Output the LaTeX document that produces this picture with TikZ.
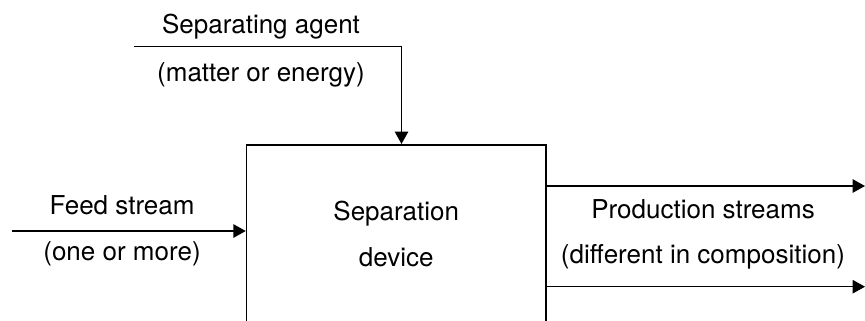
\documentclass[tikz,border=0pt]{standalone}
\usepackage{fontspec}
\setmainfont{TeX Gyre Heros}
\usetikzlibrary{arrows.meta, positioning, calc}

\begin{document}
\begin{tikzpicture}[font=\fontsize{14.8}{26.7}\selectfont,
  flow/.style={line width=0.85pt, -{Triangle[width=0.27cm, length=0.25cm]}},
  lbl/.style={inner sep=0pt, anchor=base}]

  % page: 865x320 px, 1px = 0.02cm
  \clip (0,0) rectangle (17.3,6.4);

  % Separation device (bottom edge falls off the page)
  \node[draw, line width=0.85pt, minimum width=5.99cm, minimum height=3.57cm,
        align=center, inner sep=0pt] (dev) at (7.925,1.72) {Separation\\device};

  % Separating agent, from the top
  \coordinate (agentin) at (2.68,5.466);
  \coordinate (agentbend) at (8.03,5.466);
  \node[lbl] (agent) at (5.22,5.74) {Separating agent};
  \node[lbl] (agentnote) at (5.22,4.77) {(matter or energy)};
  \draw[flow] (agentin) -- (agentbend) -- (agentbend |- dev.north);

  % Feed stream, from the left
  \coordinate (feedin) at (0.24,1.78);
  \node[lbl] (feed) at (2.44,2.11) {Feed stream};
  \node[lbl] (feednote) at (2.44,1.2) {(one or more)};
  \draw[flow] (feedin) -- (feedin -| dev.west);

  % Production streams, to the right
  \coordinate (prodA) at (17.3,2.68);
  \coordinate (prodB) at (17.3,0.666);
  \node[lbl] (prod) at (14.06,2.03) {Production streams};
  \node[lbl] (prodnote) at (14.06,1.13) {(different in composition)};
  \draw[flow] (prodA -| dev.east) -- (prodA);
  \draw[flow] (prodB -| dev.east) -- (prodB);
\end{tikzpicture}
\end{document}
